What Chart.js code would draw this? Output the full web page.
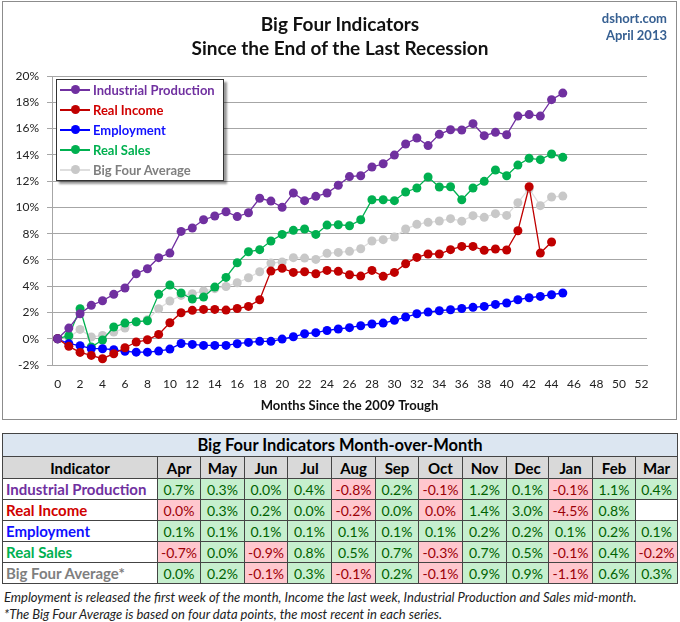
<!DOCTYPE html>
<html>
<head>
<meta charset="utf-8">
<script src="https://cdn.jsdelivr.net/npm/chart.js@4.4.0/dist/chart.umd.min.js"></script>
<style>
    body { margin: 0; background: #fff; font-family: Lato, "Open Sans", sans-serif; }
    #page { position: relative; width: 680px; height: 622px; overflow: hidden; }
    #chartBox { position: absolute; left: 2px; top: 1px; width: 673px; height: 417px; border: 1px solid #8c8c8c; }
    #chart { position: absolute; left: 0; top: 0; }
    .title { position: absolute; left: 170px; width: 340px; text-align: center; font-weight: bold; font-size: 19px; color: #111; }
    .source { position: absolute; right: 13px; text-align: right; font-weight: bold; font-size: 13px; color: #376092; }
    #legend { position: absolute; left: 56px; top: 79px; width: 166px; height: 100px; border: 1px solid #333; background: #fff;
              box-shadow: 3px 3px 2px rgba(0,0,0,0.4); }
    .item { position: absolute; left: 0; height: 20px; width: 166px; font-weight: bold; font-size: 13px; line-height: 20px; }
    .item .ln { position: absolute; left: 3px; top: 9px; width: 30px; height: 1.5px; }
    .item .dot { position: absolute; left: 14px; top: 5px; width: 9px; height: 9px; border-radius: 50%; }
    .item .txt { position: absolute; left: 36px; top: 0; white-space: nowrap; }
    #tbl { position: absolute; left: 2px; top: 433px; border-collapse: collapse; table-layout: fixed; width: 675px; }
    #tbl td { border: 1px solid #444; padding: 0; height: 20px; font-size: 14px; text-align: center; white-space: nowrap; }
    #tbl .cap { background: #dce6f1; font-weight: bold; font-size: 16.5px; height: 22px; }
    #tbl .hdr td { background: #d9d9d9; font-weight: bold; font-size: 15px; height: 21px; }
    #tbl td.name { text-align: left; padding-left: 3px; font-weight: bold; font-size: 15px; background: #fff; }
    #tbl td.up { background: #c6efce; color: #006100; }
    #tbl td.down { background: #ffc7ce; color: #9c0006; }
    .note { position: absolute; left: 4px; font-style: italic; font-size: 13px; color: #222; white-space: nowrap; }
</style>
</head>
<body>
<div id="page">
    <div id="chartBox"></div>
    <canvas id="chart" width="680" height="420"></canvas>
    <div class="title" style="top: 12px;">Big Four Indicators</div>
    <div class="title" style="top: 36px;">Since the End of the Last Recession</div>
    <div class="source" style="top: 10px;">dshort.com</div>
    <div class="source" style="top: 27px;">April 2013</div>
    <div id="legend"></div>
    <table id="tbl"></table>
    <div class="note" style="top: 589px;">Employment is released the first week of the month, Income the last week, Industrial Production and Sales mid-month.</div>
    <div class="note" style="top: 606px;">*The Big Four Average is based on four data points, the most recent in each series.</div>
</div>
<script>
// x axis categories: months since the June 2009 trough
const months = ['0','1','2','3','4','5','6','7','8','9','10','11','12','13','14','15','16','17','18','19','20',
    '21','22','23','24','25','26','27','28','29','30','31','32','33','34','35','36','37','38','39','40',
    '41','42','43','44','45','46','47','48','49','50','51','52'];

// cumulative % change since the trough
const industrialProduction = [0, 0.81, 1.9, 2.54, 2.89, 3.38, 3.86, 4.95, 5.33, 6.17,
    6.52, 8.17, 8.43, 9.06, 9.34, 9.67, 9.3, 9.59, 10.69, 10.48,
    10.0, 11.09, 10.51, 10.84, 11.09, 11.68, 12.34, 12.41, 13.07, 13.32,
    13.98, 14.82, 15.28, 14.7, 15.56, 15.91, 15.89, 16.37, 15.46, 15.71,
    15.53, 16.95, 17.06, 16.95, 18.2, 18.7];
const realIncome = [0, -0.58, -1.04, -1.27, -1.52, -1.14, -0.69, -0.25, -0.08, 0.33,
    1.22, 1.98, 2.16, 2.23, 2.23, 2.18, 2.3, 2.46, 2.97, 5.15,
    5.36, 5.05, 5.1, 4.95, 5.2, 5.13, 4.87, 4.77, 5.2, 4.75,
    5.05, 5.71, 6.19, 6.45, 6.45, 6.78, 7.03, 7.03, 6.73, 6.83,
    6.75, 8.22, 11.57, 6.52, 7.36, null];
const employment = [0, -0.38, -0.53, -0.76, -0.76, -0.84, -0.96, -1.02, -1.02, -0.94,
    -0.79, -0.36, -0.43, -0.51, -0.51, -0.51, -0.38, -0.28, -0.2, -0.2,
    -0.03, 0.15, 0.38, 0.46, 0.63, 0.74, 0.84, 0.99, 1.12, 1.19,
    1.4, 1.65, 1.9, 2.03, 2.13, 2.21, 2.3, 2.39, 2.46, 2.61,
    2.72, 2.97, 3.12, 3.22, 3.35, 3.48];
const realSales = [0, 0.23, 2.28, -0.63, -0.1, 0.89, 1.19, 1.29, 1.37, 3.38,
    4.09, 3.48, 3.02, 3.17, 3.93, 4.67, 5.78, 6.62, 6.78, 7.44,
    7.94, 8.25, 8.35, 7.94, 8.65, 8.68, 8.6, 9.06, 10.58, 10.58,
    10.51, 11.17, 11.47, 12.31, 11.55, 11.57, 10.58, 11.47, 11.98, 12.84,
    12.41, 13.22, 13.73, 13.63, 14.06, 13.81];
const bigFourAverage = [0, 0.1, 0.71, 0.13, 0.25, 0.51, 0.81, 1.27, 1.45, 2.28,
    2.87, 3.3, 3.43, 3.63, 3.81, 3.98, 4.26, 4.64, 5.1, 5.76,
    5.84, 6.17, 6.14, 6.04, 6.5, 6.57, 6.65, 6.85, 7.44, 7.54,
    7.74, 8.35, 8.71, 8.86, 8.96, 9.14, 8.95, 9.37, 9.24, 9.52,
    9.39, 10.36, 11.42, 10.13, 10.79, 10.86];

// month-over-month table
const tableMonths = ['Apr','May','Jun','Jul','Aug','Sep','Oct','Nov','Dec','Jan','Feb','Mar'];
const momIndustrial = [0.7, 0.3, 0.0, 0.4, -0.8, 0.2, -0.1, 1.2, 0.1, -0.1, 1.1, 0.4];
const momIncome = [0.0, 0.3, 0.2, 0.0, -0.2, 0.0, 0.0, 1.4, 3.0, -4.5, 0.8, null];
const momEmployment = [0.1, 0.1, 0.1, 0.1, 0.1, 0.1, 0.1, 0.2, 0.2, 0.1, 0.2, 0.1];
const momSales = [-0.7, 0.0, -0.9, 0.8, 0.5, 0.7, -0.3, 0.7, 0.5, -0.1, 0.4, -0.2];
const momAverage = [0.0, 0.2, -0.1, 0.3, -0.1, 0.2, -0.1, 0.9, 0.9, -1.1, 0.6, 0.3];
// Income shows 0.0% as a down month in Apr and Oct
const incomeDownZero = ['Apr', 'Oct'];

const series = [
    { label: 'Industrial Production', data: industrialProduction, color: '#7030a0', text: '#7030a0' },
    { label: 'Real Income', data: realIncome, color: '#c00000', text: '#d00000' },
    { label: 'Employment', data: employment, color: '#0000ff', text: '#1010ff' },
    { label: 'Real Sales', data: realSales, color: '#00b050', text: '#00b050' },
    { label: 'Big Four Average', data: bigFourAverage, color: '#c8c8c8', text: '#7f7f7f' }
];

const gridColor = '#a6a6a6';

new Chart(document.getElementById('chart'), {
    type: 'line',
    data: {
        labels: months,
        datasets: series.map(s => ({
            label: s.label,
            data: s.data,
            borderColor: s.label === 'Big Four Average' ? '#dedede' : s.color,
            backgroundColor: s.color,
            borderWidth: 1.3,
            pointRadius: 4.5,
            pointBorderWidth: 0,
            pointBackgroundColor: s.color,
            spanGaps: false,
            tension: 0
        }))
    },
    options: {
        responsive: false,
        animation: false,
        layout: { padding: { top: 76, right: 33, bottom: 0, left: 0 } },
        plugins: { legend: { display: false }, tooltip: { enabled: false } },
        scales: {
            x: {
                type: 'category',
                offset: true,
                grid: { display: false, drawTicks: false },
                border: { color: gridColor },
                afterFit: scale => { scale.height = 55; },
                ticks: {
                    autoSkip: false,
                    maxRotation: 0,
                    padding: 12,
                    color: '#222',
                    font: { family: 'Lato', size: 12 },
                    callback: function (value, index) { return index % 2 === 0 ? this.getLabelForValue(value) : null; }
                },
                title: {
                    display: true,
                    text: 'Months Since the 2009 Trough',
                    color: '#111',
                    font: { family: 'Lato', size: 13, weight: 'bold' },
                    padding: { top: 0, bottom: 6 }
                }
            },
            y: {
                min: -2,
                max: 20,
                afterFit: scale => { scale.width = 52; },
                grid: { color: gridColor, tickLength: 5 },
                border: { color: gridColor },
                ticks: {
                    stepSize: 2,
                    padding: 8,
                    color: '#222',
                    font: { family: 'Lato', size: 12 },
                    callback: v => v + '%'
                }
            }
        }
    }
});

// legend box inside the plot
const legend = document.getElementById('legend');
series.forEach((s, i) => {
    const item = document.createElement('div');
    item.className = 'item';
    item.style.top = (i * 20) + 'px';
    const lineColor = s.label === 'Big Four Average' ? '#dedede' : s.color;
    item.innerHTML = '<span class="ln" style="background:' + lineColor + '"></span>' +
        '<span class="dot" style="background:' + s.color + '"></span>' +
        '<span class="txt" style="color:' + s.text + '">' + s.label + '</span>';
    legend.appendChild(item);
});

// month-over-month table
const rows = [
    { name: 'Industrial Production', values: momIndustrial, color: '#7030a0' },
    { name: 'Real Income', values: momIncome, color: '#d00000' },
    { name: 'Employment', values: momEmployment, color: '#1010ff' },
    { name: 'Real Sales', values: momSales, color: '#00b050' },
    { name: 'Big Four Average*', values: momAverage, color: '#7f7f7f' }
];
const colWidths = [155, 43, 44, 43, 44, 44, 43, 44, 44, 42, 44, 43, 42];

let html = '<colgroup>' + colWidths.map(w => '<col style="width:' + w + 'px">').join('') + '</colgroup>';
html += '<tr><td class="cap" colspan="13">Big Four Indicators Month-over-Month</td></tr>';
html += '<tr class="hdr"><td>Indicator</td>' + tableMonths.map(m => '<td>' + m + '</td>').join('') + '</tr>';
rows.forEach(r => {
    html += '<tr><td class="name" style="color:' + r.color + '">' + r.name + '</td>';
    r.values.forEach((v, j) => {
        if (v === null) { html += '<td style="background:#fff"></td>'; return; }
        let down = v < 0;
        if (v === 0 && r.name === 'Real Income' && incomeDownZero.includes(tableMonths[j])) down = true;
        html += '<td class="' + (down ? 'down' : 'up') + '">' + v.toFixed(1) + '%</td>';
    });
    html += '</tr>';
});
document.getElementById('tbl').innerHTML = html;
</script>
</body>
</html>
